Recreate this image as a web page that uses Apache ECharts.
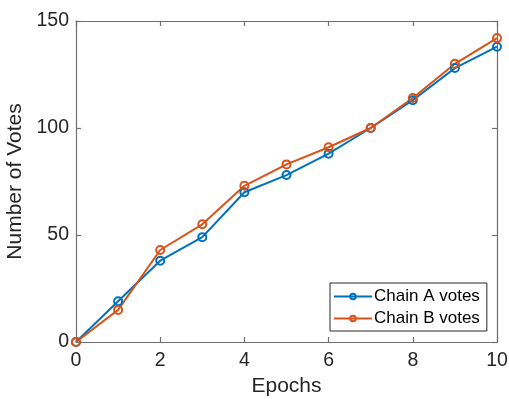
<!DOCTYPE html>
<html><head><meta charset="utf-8">
<script src="https://cdn.jsdelivr.net/npm/echarts@6/dist/echarts.min.js"></script>
<style>html,body{margin:0;padding:0;background:#fff}#c{width:509px;height:399px}</style>
</head><body><div id="c"></div>
<script>
const epochs = [0,1,2,3,4,5,6,7,8,9,10];
const chainA = [0,19,38,49,70,78,88,100,113,128,138];
const chainB = [0,15,43,55,73,83,91,100,114,130,142];
const xTicks = [0,2,4,6,8,10];
const yTicks = [0,50,100,150];
const seriesNames = ['Chain A votes','Chain B votes'];
const colors = ['#0072BD','#D95319'];

const chart = echarts.init(document.getElementById('c'), null, {renderer:'canvas'});
const font = 'Liberation Sans, Arial, sans-serif';
const axisCol = '#262626';
const lineCol = '#6e6e6e';
function mk(data){ return epochs.map((e,i)=>[e,data[i]]); }
const common = {
  axisLine:{show:true,onZero:false,lineStyle:{color:lineCol,width:1.2}},
  axisTick:{show:true,inside:true,length:5,lineStyle:{color:lineCol,width:1.2}},
  splitLine:{show:false}
};
chart.setOption({
  animation:false,
  backgroundColor:'#fff',
  grid:{left:76,right:12,top:21,bottom:57,containLabel:false,outerBoundsMode:'none'},
  xAxis:[
    Object.assign({type:'value',min:0,max:10,interval:2,position:'bottom',
      name:'Epochs',nameLocation:'middle',nameGap:33,
      nameTextStyle:{color:axisCol,fontSize:21,fontFamily:font},
      axisLabel:{color:axisCol,fontSize:19.5,fontFamily:font,margin:9}},common),
    Object.assign({type:'value',min:0,max:10,interval:2,position:'top',axisLabel:{show:false}},common)
  ],
  yAxis:[
    Object.assign({type:'value',min:0,max:150,interval:50,position:'left',
      name:'Number of Votes',nameLocation:'middle',nameGap:45,nameRotate:90,
      nameTextStyle:{color:axisCol,fontSize:21,fontFamily:font},
      axisLabel:{color:axisCol,fontSize:19.5,fontFamily:font,margin:7}},common),
    Object.assign({type:'value',min:0,max:150,interval:50,position:'right',axisLabel:{show:false}},common)
  ],
  legend:{
    left:330, top:283, orient:'vertical',
    itemWidth:38, itemHeight:7, itemGap:5,
    padding:[5,7,4,3],
    borderColor:'#262626', borderWidth:1, backgroundColor:'#fff',
    textStyle:{color:'#000',fontSize:17,fontFamily:font, padding:[0,0,0,-3]},
    data:seriesNames
  },
  series:[0,1].map(i=>({
    name:seriesNames[i], type:'line', xAxisIndex:0, yAxisIndex:0,
    data: mk(i===0?chainA:chainB),
    symbol:'circle', symbolSize:8, showAllSymbol:true,
    lineStyle:{color:colors[i],width:2},
    itemStyle:{color:'rgba(255,255,255,0)',borderColor:colors[i],borderWidth:2},
    emphasis:{disabled:true}
  }))
});
</script></body></html>
